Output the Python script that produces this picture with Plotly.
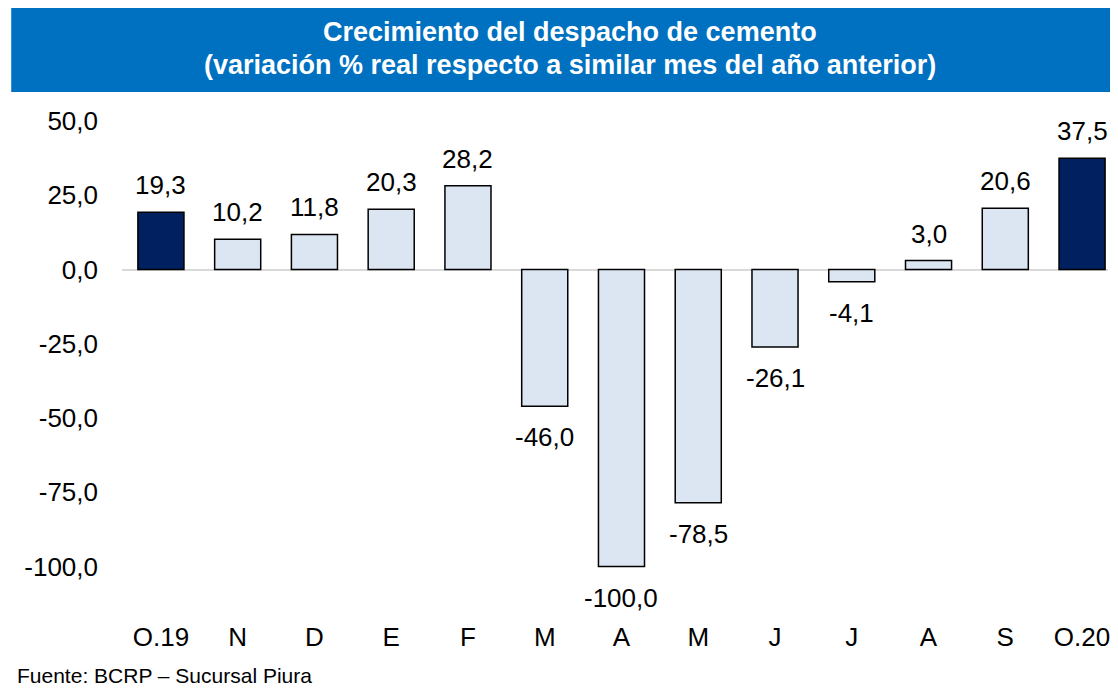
import plotly.graph_objects as go

categories = ["O.19", "N", "D", "E", "F", "M", "A", "M", "J", "J", "A", "S", "O.20"]
values = [19.3, 10.2, 11.8, 20.3, 28.2, -46.0, -100.0, -78.5, -26.1, -4.1, 3.0, 20.6, 37.5]
highlight = [True, False, False, False, False, False, False, False, False, False, False, False, True]
y_ticks = [50, 25, 0, -25, -50, -75, -100]

title_lines = ["Crecimiento del despacho de cemento",
               "(variación % real respecto a similar mes del año anterior)"]
source_text = "Fuente: BCRP – Sucursal Piura"

NAVY = "#002060"
LIGHT = "#DCE6F2"
BANNER = "#0070C0"
FONT = "Liberation Sans, Arial, sans-serif"

x_pos = list(range(len(categories)))
colors = [NAVY if h else LIGHT for h in highlight]

def fmt(v):
    return f"{v:.1f}".replace(".", ",")

# page body has an 8px margin: work in screen pixels, shifted by OFF
OFF = 8
W, H = 1102, 680
L, R, T = 122 - OFF, 0, 121 - OFF
B = H - (626 - OFF)
pw = W - L - R
ph = H - T - B

def px_x(px):
    return (px - OFF - L) / pw

def px_y(py):
    return (H - B - (py - OFF)) / ph

fig = go.Figure()
fig.add_trace(go.Bar(
    x=x_pos, y=values,
    marker=dict(color=colors, line=dict(color="#000000", width=1.5)),
    hoverinfo="skip",
))

for xi, v in zip(x_pos, values):
    fig.add_annotation(
        x=xi, y=v, xref="x", yref="y",
        text=fmt(v), showarrow=False,
        yanchor="middle", xanchor="center",
        yshift=27 if v >= 0 else -31,
        font=dict(family=FONT, size=26, color="#000000"),
    )

fig.add_shape(type="rect", xref="paper", yref="paper",
              x0=px_x(11), x1=px_x(1130), y0=px_y(92), y1=px_y(6),
              fillcolor=BANNER, line=dict(width=0), layer="above")

for line, cy in zip(title_lines, [32, 65]):
    fig.add_annotation(xref="paper", yref="paper", x=px_x(571), y=px_y(cy),
                       text=line, showarrow=False,
                       xanchor="center", yanchor="middle",
                       font=dict(family=FONT, size=27, color="#FFFFFF", weight="bold"))

fig.add_annotation(xref="paper", yref="paper", x=px_x(15), y=px_y(675),
                   text=source_text, showarrow=False,
                   xanchor="left", yanchor="middle",
                   font=dict(family=FONT, size=21, color="#000000"))

fig.update_layout(
    width=W, height=H,
    margin=dict(l=L, r=R, t=T, b=B, pad=0),
    paper_bgcolor="white", plot_bgcolor="white",
    bargap=0.4, showlegend=False,
    font=dict(family=FONT, size=26, color="#000000"),
)
fig.update_xaxes(
    range=[-0.507, 12.338],
    tickvals=x_pos, ticktext=categories,
    showgrid=False, zeroline=False, showline=False, ticks="",
    ticklabelstandoff=-7, ticklabeloverflow="allow",
    tickfont=dict(family=FONT, size=26, color="#000000"),
)
fig.update_yaxes(
    range=[-120, 50],
    tickvals=y_ticks, ticktext=[fmt(v) for v in y_ticks],
    showgrid=False, zeroline=True, zerolinecolor="#D9D9D9", zerolinewidth=2,
    showline=False, ticks="", ticklabelstandoff=23,
    tickfont=dict(family=FONT, size=26, color="#000000"),
)

fig.write_html("out.html")
